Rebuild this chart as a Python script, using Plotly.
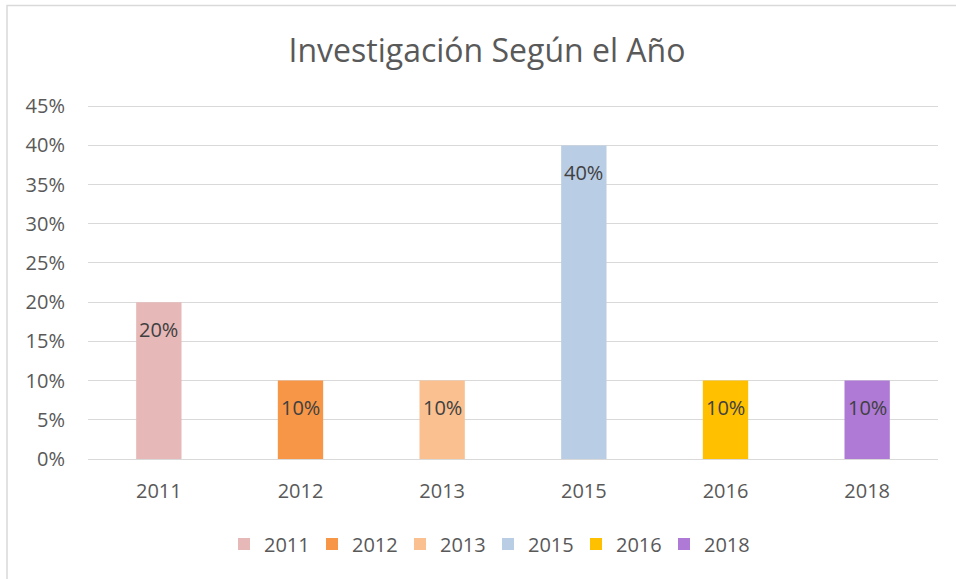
import plotly.graph_objects as go

years = ["2011", "2012", "2013", "2015", "2016", "2018"]
values = [0.20, 0.10, 0.10, 0.40, 0.10, 0.10]
labels = ["20%", "10%", "10%", "40%", "10%", "10%"]
colors = ["#E6B8B7", "#F79646", "#FAC090", "#B9CDE5", "#FFC000", "#AE7AD6"]
yticks = [0, 0.05, 0.10, 0.15, 0.20, 0.25, 0.30, 0.35, 0.40, 0.45]
yticktext = ["0%", "5%", "10%", "15%", "20%", "25%", "30%", "35%", "40%", "45%"]

FONT = "Open Sans"
TXT = "#595959"

fig = go.Figure()
for yr, v, c in zip(years, values, colors):
    fig.add_trace(go.Bar(x=[yr], y=[v], name=yr, marker=dict(color=c, line=dict(width=0)),
                         width=0.32, hoverinfo="skip"))

for i, (v, t) in enumerate(zip(values, labels)):
    fig.add_annotation(x=i, y=v, xref="x", yref="y", text=t, showarrow=False,
                       yshift=-27, yanchor="middle",
                       font=dict(family=FONT, size=20, color="#404040"))

W, H = 956, 579
L, R, T, B = 88, 18, 105, 120
pw, ph = W - L - R, H - T - B

# outer chart border (left and top visible)
fig.add_shape(type="rect", xref="paper", yref="paper",
              x0=(7 - L) / pw, x1=(W + 20 - L) / pw,
              y0=-(H + 20 - (H - B)) / ph, y1=((H - B) - 5.5) / ph,
              line=dict(color="#D9D9D9", width=1.5), fillcolor="rgba(0,0,0,0)", layer="below")

fig.update_layout(
    width=W, height=H,
    margin=dict(l=L, r=R, t=T, b=B),
    paper_bgcolor="white", plot_bgcolor="white",
    barmode="overlay",
    title=dict(text="Investigación Según el Año", x=487 / W, xanchor="center",
               y=1 - 51 / H, yanchor="middle",
               font=dict(family=FONT, size=32, color=TXT)),
    font=dict(family=FONT, color=TXT),
    showlegend=True,
    legend=dict(orientation="h", x=(488 - L) / pw, xanchor="center",
                y=-(544 - (H - B)) / ph, yanchor="middle",
                font=dict(family=FONT, size=20, color=TXT),
                entrywidth=43, entrywidthmode="pixels",
                itemsizing="constant", traceorder="normal"),
    xaxis=dict(type="category", categoryorder="array", categoryarray=years,
               range=[-0.5, len(years) - 0.5],
               showgrid=False, showline=False, zeroline=False,
               ticks="outside", ticklen=14, tickcolor="rgba(0,0,0,0)",
               tickfont=dict(family=FONT, size=20, color=TXT), fixedrange=True),
    yaxis=dict(range=[0, 0.4515], tickvals=yticks, ticktext=yticktext,
               showgrid=True, gridcolor="#D9D9D9", gridwidth=1.3,
               zeroline=True, zerolinecolor="#D9D9D9", zerolinewidth=1.3,
               showline=False, ticks="outside", ticklen=18, tickcolor="rgba(0,0,0,0)",
               tickfont=dict(family=FONT, size=20, color=TXT), fixedrange=True),
)

fig.write_html("out.html", config={"displayModeBar": False},
               post_script="document.body.style.margin='0px';document.body.style.padding='0px';")
